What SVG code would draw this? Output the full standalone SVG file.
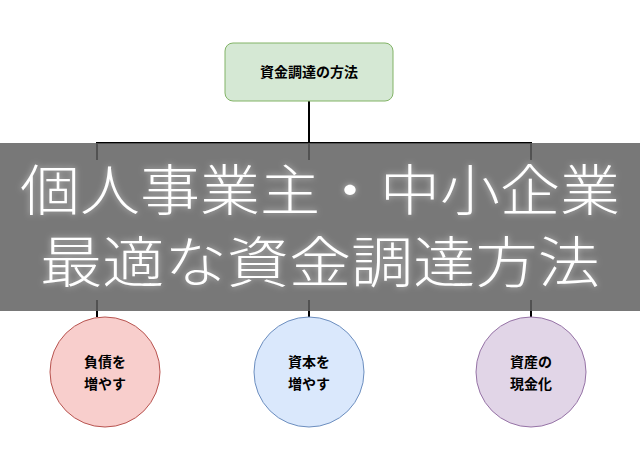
<svg xmlns="http://www.w3.org/2000/svg" width="640" height="452" viewBox="0 0 640 452">
<defs>
<style>
.lbl{font-family:"Noto Sans CJK JP",sans-serif;font-weight:bold;font-size:14px;fill:#000;text-anchor:middle}
.big{font-family:"Noto Sans CJK JP",sans-serif;font-weight:300;font-size:55px;fill:#fff;text-anchor:middle}
.ln{stroke:#000;stroke-width:2;fill:none}
</style>
<filter id="glow" x="-10%" y="-30%" width="120%" height="160%">
<feGaussianBlur in="SourceAlpha" stdDeviation="3" result="b"/>
<feFlood flood-color="#fff" flood-opacity="0.5"/>
<feComposite in2="b" operator="in" result="g"/>
<feMerge><feMergeNode in="g"/><feMergeNode in="SourceGraphic"/></feMerge>
</filter>
</defs>
<rect width="640" height="452" fill="#fff"/>
<g id="connectors">
<path class="ln" d="M309 101V143M97 160V143H531V160M309 143V160"/>
<path class="ln" d="M97 300V317M309 300V317M531 300V317"/>
</g>
<g id="root"><rect x="225" y="43" width="168" height="58" rx="8" fill="#d5e8d4" stroke="#82b366"/><text class="lbl" x="309" y="77">資金調達の方法</text></g>
<g id="n1"><circle cx="105" cy="372" r="55" fill="#f8cecc" stroke="#b85450"/><text class="lbl" x="105" y="367">負債を</text><text class="lbl" x="105" y="389">増やす</text></g>
<g id="n2"><circle cx="309" cy="372" r="55" fill="#dae8fc" stroke="#6c8ebf"/><text class="lbl" x="309" y="367">資本を</text><text class="lbl" x="309" y="389">増やす</text></g>
<g id="n3"><circle cx="531" cy="372" r="55" fill="#e1d5e7" stroke="#9673a6"/><text class="lbl" x="531" y="367">資産の</text><text class="lbl" x="531" y="389">現金化</text></g>
<g id="banner">
<rect x="0" y="143" width="640" height="168" fill="#606060" fill-opacity="0.85"/>
<g filter="url(#glow)">
<text class="big" x="320" y="210" textLength="600" lengthAdjust="spacingAndGlyphs">個人事業主・中小企業</text>
<text class="big" x="320" y="282" textLength="560" lengthAdjust="spacingAndGlyphs">最適な資金調達方法</text>
</g>
</g>
</svg>
